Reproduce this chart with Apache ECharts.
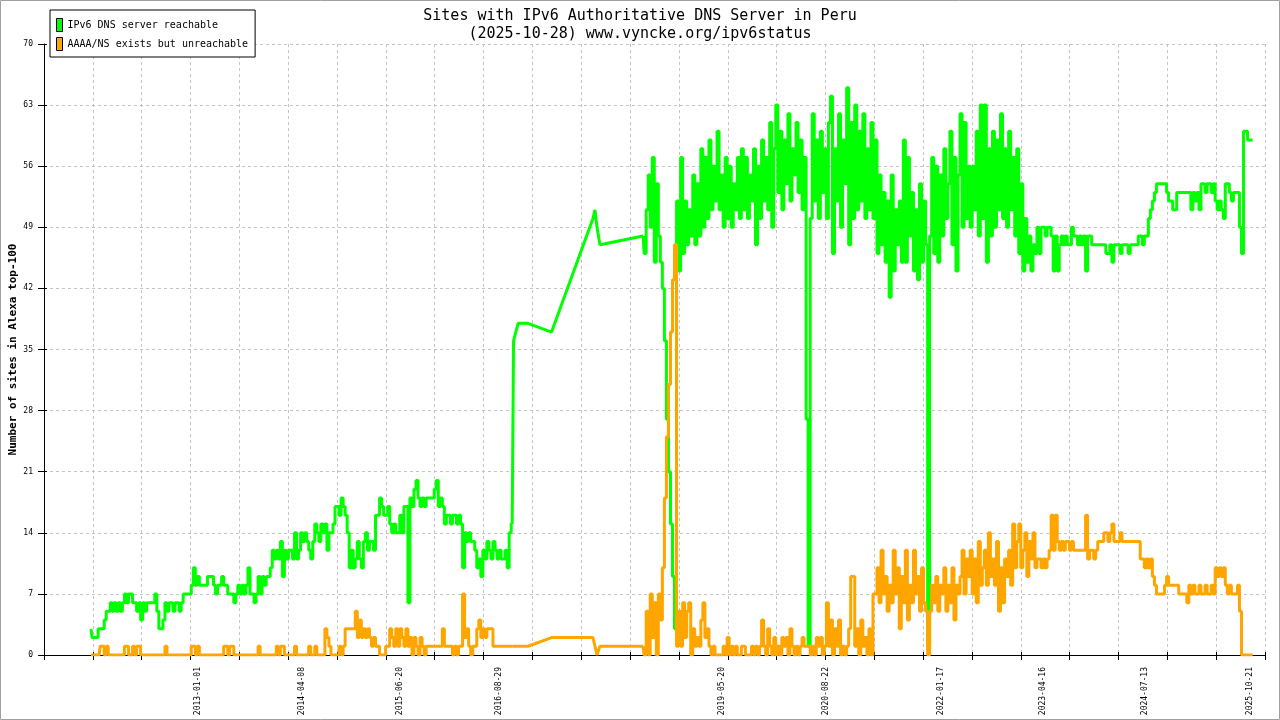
<!DOCTYPE html>
<html><head><meta charset="utf-8">
<script src="https://cdn.jsdelivr.net/npm/echarts@6/dist/echarts.min.js"></script>
<style>html,body{margin:0;padding:0;background:#fff}#c{width:1280px;height:720px}</style>
</head><body><div id="c"></div>
<script>
const titleText = 'Sites with IPv6 Authoritative DNS Server in Peru\n(2025-10-28) www.vyncke.org/ipv6status';
const yAxisTitle = 'Number of sites in Alexa top-100';
const seriesNames = ['IPv6 DNS server reachable', 'AAAA/NS exists but unreachable'];
const axisStartDate = '2011-02-17';
const axisEndDate = '2025-12-27';
const xTickCount = 25;
const xLabelDates = ['2013-01-01','2014-04-08','2015-06-20','2016-08-29','2019-05-20','2020-08-22','2022-01-17','2023-04-16','2024-07-13','2025-10-21'];
const yMin = 0, yMax = 70, yStep = 7;
const sampleStepDays = 9;

// 2011-09 .. 2016-11, one sample every 9 days
const startA = '2011-09-14';
const reachableA = [
3,2,2,2,3,3,3,4,5,5, 6,5,6,5,6,5,6,7,6,7, 7,6,6,5,6,4,6,5,6,6, 6,6,7,5,3,3,4,6,5,6,
6,5,6,6,5,6,7,7,7,7, 8,10,8,9,8,8,8,8,9,9, 9,8,7,8,8,9,8,8,7,7, 7,6,7,8,7,8,7,8,10,7,
7,6,7,9,7,9,8,9,9,10, 12,11,12,11,13,9,12,11,12,12, 11,14,11,12,14,13,14,13,12,11,
13,15,14,13,15,14,15,12,14,14, 15,17,17,16,18,17,16,14,10,12, 10,11,13,11,10,13,14,12,13,13,
12,16,16,18,17,16,16,17,15,14, 15,14,14,16,14,17,17,6,18,17, 19,20,18,17,18,17,18,18,18,18,
19,20,17,18,17,15,16,16,15,16, 16,15,16,15,10,14,13,14,13,13, 12,10,11,9,12,11,13,12,11,13,
12,11,12,11,11,12,10,14,15];
const unreachableA = [
0,0,0,0,0,1,1,0,1,0, 0,0,0,0,0,0,0,1,1,0, 0,1,0,1,1,0,0,0,0,0, 0,0,0,0,0,0,0,1,0,0,
0,0,0,0,0,0,0,0,0,0, 1,1,0,1,0,0,0,0,0,0, 0,0,0,0,0,0,1,1,0,1, 1,0,0,0,0,0,0,0,0,0,
0,0,0,1,0,0,0,0,0,0, 0,0,1,0,1,1,0,0,0,0, 0,1,0,0,0,0,0,0,1,0, 0,1,0,0,0,0,3,2,1,0,
0,0,0,1,0,1,3,3,3,3, 3,5,2,4,2,3,2,3,2,1, 2,1,1,0,0,0,1,1,3,2, 1,3,1,3,2,1,3,1,2,0,
2,1,0,2,1,0,1,1,1,1, 1,1,1,1,3,1,1,1,1,0, 1,0,1,1,7,2,3,1,0,1, 1,3,4,2,3,2,3,3,3,1,
1,1,1,1,1,1,1,1,1];

// sparse period 2016-11 .. 2017-11
const sparseDates = ['2016-11-04','2016-11-24','2017-01-07','2017-04-22','2017-10-23','2017-11-01','2017-11-10','2017-11-23'];
const reachableSparse = [36,38,38,37,50,51,49,47];
const unreachableSparse = [1,1,1,2,2,1,0,1];

// 2018-06 .. 2025-10, one sample every 9 days
const startC = '2018-06-03';
const reachableC = [
48,46,51,55,49,57,45,54,48, 45,42,36,27,21,15,9,3, 52,44,57,46,52,47,51,48, 55,47,54, 48,58,49,57,50,
59,51,56,52,60,51,55, 49,57,50,56,49,54,51,57, 50,58,51,57,50,55,52,58,47,56,50,59,52,57,51,
61,49,58,63, 53,60,51,59,54,62,52,58,55,61,53,59,51,57, 27,1, 50,62,52,59,50,60,53,58,50,61,
64,46,58,52,62,49,59,54,65,47, 61,50,63,51,60,52,62,50,58,51,61,50,59, 46,55,47,53,45,52,41,55,44,51,47,52,45,
59,45,57,48, 53,44,51,43,54,45,52, 47,1, 48,57,46,56,45,55,48,58,50,54, 60,47,57,44,55,
62,49,61,50,56,49, 56,51,60,48,63,50,63,45,58,48,60, 49,59,51,62,50,58,49,60,51,57,48,58, 46,54,44,
50,45,48,44,47,46,49,46,49,49, 48,49,49,48,44,48,44,47,48,47, 48,47,47,49,48,48,47,48,47,48,
44,48,48,47,47,47,47,47,47,47, 46,46,47,45,47,47,47,46,47,47, 47,46,47,47,47,47,48,48,47,48,
48,50,51,52,53,54,54,54,54,54, 53,52,52,51,51,53,53,53,53,53, 53,53,51,53,52,53,51,54,54,53,
54,54,53,54,52,51,52,51,50,54, 54,53,52,53,53,53,49,46,60,60, 59,59,59];
const unreachableC = [
1,0,5,0,7,2,6,0,7, 4,10,18,25,31,37,43,47, 1,5,1,6,2,5, 6,0,3,1, 2,1,4,6,2,3,
1,0,1,0,0,0,0,1,0,2, 0,1,0,1,0,0,1,1,0,0,0,1,0,1,0,1, 4,1, 0,3,1,0,2,0,1,
0,2,1,2,0,3,1,0,1,0,1,2,1, 1,1,0, 1,0,2,1,2,0,1, 6,1,4,0,3,1,4,0,1,0,1, 3,9,9,1,
3,0,4,1,2,0,3,0, 7, 7,10,6,12,7,9,5,8,6,12,7,10,3,9,6,12,4,8,6,12,7,9,5,10,6, 5,0,
5,8,6,9,5,8,7,10,5,8,6,10,4,8,7, 9,12,7,11,9,12,7,11,6,13,8,10,12,8,14,9,
11,8,13,5,10,6,11,9,12,8,15,10,13, 15,10,12,14,9,13,11,14,10,11, 11,10,11,10,11, 12,16,12,16,
13,12,13,12,13,13,12,13, 12,12,12,12,12,12,16,11, 12,12,11,12, 13,13,13, 14,14,13,14,15,13,
13,13,14,13,13,13,13,13,13,13,13,13, 11,11,10,11,10,11, 9,8, 7,7,7,7, 8,9,8,8, 8,8,8,
7,7,7,7,6,8,7,8,7,7,8,7,7,8,7,7,8,7, 10,9,10,9,10,8, 7,8,7,7,7,8, 5,0, 0,0,0,0,0];

const seriesColors = ['#00ff00', '#ffa500'];

const DAY = 86400000;
function dayOf(s) { return (Date.parse(s) - Date.parse(axisStartDate)) / DAY; }
function regular(start, vals) { const d0 = dayOf(start); return vals.map((v, i) => [d0 + i * sampleStepDays, v]); }
function sparse(vals) { return sparseDates.map((d, i) => [dayOf(d), vals[i]]); }

function seriesSet(name, color, valsA, valsSparse, valsC) {
  const a = regular(startA, valsA), c = regular(startC, valsC);
  const bridge = [a[a.length - 1]].concat(sparse(valsSparse), [c[0]]);
  const base = { name, type: 'line', showSymbol: false, symbol: 'none', silent: true, color,
    xAxisIndex: 0, yAxisIndex: 0, lineStyle: { color, width: 3 }, emphasis: { disabled: true } };
  return [
    Object.assign({}, base, { data: a, step: 'middle' }),
    Object.assign({}, base, { data: bridge }),
    Object.assign({}, base, { data: c, step: 'middle' })
  ];
}

const xMax = dayOf(axisEndDate);
const xInterval = xMax / xTickCount;
const labelByDay = {};
xLabelDates.forEach(d => { labelByDay[Math.round(dayOf(d))] = d; });

const mono = 'DejaVu Sans Mono';
const gridLine = { show: true, lineStyle: { color: '#c4c4c4', type: [3, 3], width: 1 } };

const chart = echarts.init(document.getElementById('c'), null, { renderer: 'canvas' });
chart.setOption({
  animation: false,
  backgroundColor: '#fff',
  title: {
    text: titleText, left: 'center', top: 2,
    textStyle: { fontFamily: mono, fontSize: 15, fontWeight: 'normal', color: '#000', lineHeight: 18 }
  },
  legend: {
    left: 50, top: 10, orient: 'vertical', icon: 'rect', itemWidth: 6, itemHeight: 13, itemGap: 5,
    padding: [8, 7, 6, 6], borderColor: '#000', borderWidth: 1, backgroundColor: '#fff',
    itemStyle: { borderColor: '#000', borderWidth: 1 },
    textStyle: { fontFamily: mono, fontSize: 10, color: '#000' },
    data: seriesNames, selectedMode: false
  },
  graphic: [{
    type: 'rect', silent: true, z: 100,
    shape: { x: 0.5, y: 0.5, width: 1279, height: 719 },
    style: { fill: 'none', stroke: '#a0a0a0', lineWidth: 1 }
  }],
  grid: { left: 44, right: 15, top: 44, bottom: 65, containLabel: false, outerBoundsMode: 'none' },
  xAxis: [
    { type: 'value', position: 'bottom', min: 0, max: xMax, interval: xInterval,
      axisLine: { show: true, onZero: false, lineStyle: { color: '#000', width: 1 } },
      axisTick: { show: true, inside: false, length: 5, lineStyle: { color: '#000' } },
      axisLabel: { show: false }, splitLine: gridLine },
    { type: 'value', position: 'bottom', min: 0, max: xMax, interval: xInterval,
      axisLine: { show: false, onZero: false },
      axisTick: { show: true, inside: true, length: 3, lineStyle: { color: '#000' } },
      axisLabel: { show: false }, splitLine: { show: false } },
    { type: 'value', position: 'bottom', min: 0, max: xMax,
      axisLine: { show: false, onZero: false }, axisTick: { show: false }, splitLine: { show: false },
      axisLabel: { show: true, rotate: 90, margin: 12, fontFamily: mono, fontSize: 8, color: '#000',
        customValues: xLabelDates.map(dayOf),
        formatter: v => labelByDay[Math.round(v)] || '' } }
  ],
  yAxis: [
    { type: 'value', position: 'left', min: yMin, max: yMax, interval: yStep,
      name: yAxisTitle, nameLocation: 'middle', nameGap: 25, nameRotate: 90, nameMoveOverlap: false,
      nameTextStyle: { fontFamily: mono, fontSize: 11, fontWeight: 'bold', color: '#000' },
      axisLine: { show: true, lineStyle: { color: '#000', width: 1 } },
      axisTick: { show: true, inside: false, length: 6, lineStyle: { color: '#000' } },
      axisLabel: { fontFamily: mono, fontSize: 8, color: '#000', margin: 11 },
      splitLine: gridLine },
    { type: 'value', position: 'left', min: yMin, max: yMax, interval: yStep,
      axisLine: { show: false }, axisTick: { show: true, inside: true, length: 3, lineStyle: { color: '#000' } },
      axisLabel: { show: false }, splitLine: { show: false } }
  ],
  series: seriesSet(seriesNames[0], seriesColors[0], reachableA, reachableSparse, reachableC)
    .concat(seriesSet(seriesNames[1], seriesColors[1], unreachableA, unreachableSparse, unreachableC))
});
</script></body></html>
